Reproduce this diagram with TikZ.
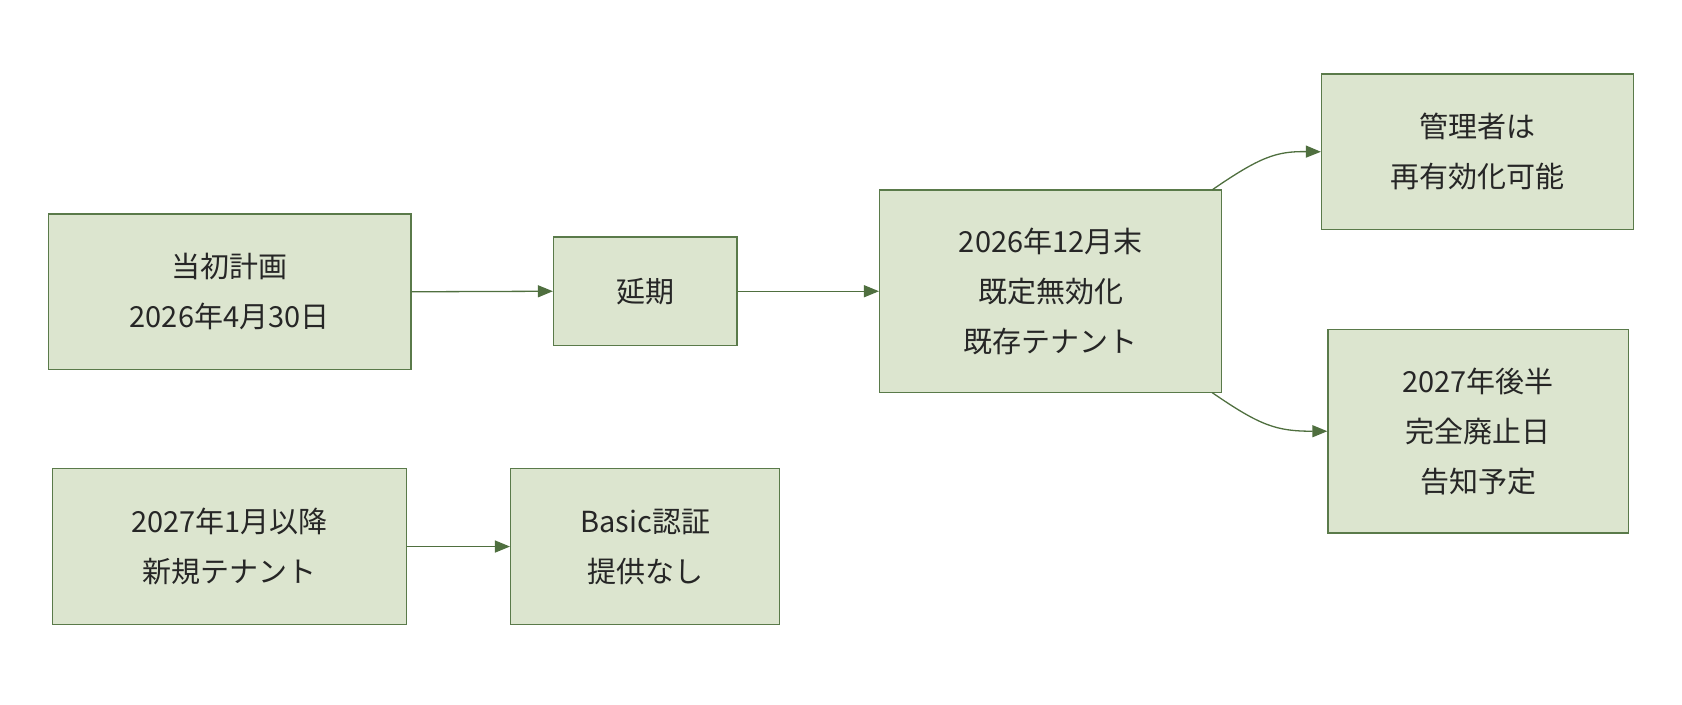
\documentclass[tikz,border=0pt]{standalone}
\usepackage{fontspec}
\setmainfont{Noto Sans CJK JP}
\usetikzlibrary{arrows.meta}
\definecolor{boxfill}{HTML}{DCE5CF}
\definecolor{boxdraw}{HTML}{5A7A4A}
\definecolor{arr}{HTML}{4F6F3F}
\begin{document}
\begin{tikzpicture}[x=1.0727pt,y=-1.0727pt,
  box/.style={draw=boxdraw,fill=boxfill,line width=1.3pt,align=center,inner sep=0pt,
    font=\fontsize{29}{50}\selectfont,text=black!85},
  arw/.style={draw=arr,line width=1.3pt,-{Triangle[length=15pt,width=12pt]}}]
\useasboundingbox (0,0) rectangle (1568,656.3);
\node[box,minimum width=362.6pt,minimum height=155.5pt] (a) at (214,272) {当初計画\\2026年4月30日};
\node[box,minimum width=183.4pt,minimum height=108.3pt] (b) at (601.5,271.5) {延期};
\node[box,minimum width=342.2pt,minimum height=202.7pt] (c) at (979.5,271.5) {2026年12月末\\既定無効化\\既存テナント};
\node[box,minimum width=312.2pt,minimum height=155.5pt] (d) at (1377.5,141.5) {管理者は\\再有効化可能};
\node[box,minimum width=300.4pt,minimum height=203.8pt] (e) at (1378,402) {2027年後半\\完全廃止日\\告知予定};
\node[box,minimum width=354pt,minimum height=155.5pt] (f) at (214,509.5) {2027年1月以降\\新規テナント};
\node[box,minimum width=269.2pt,minimum height=155.5pt] (g) at (601.5,509.5) {Basic認証\\提供なし};
\coordinate (c1) at (1130,177);
\coordinate (c2) at (1130,366);
\draw[arw] (a.east) -- (b.west);
\draw[arw] (b.east) -- (c.west);
\draw[arw] (f.east) -- (g.west);
\draw[arw] (c1) .. controls (1175,146) and (1190,141) .. (d.west);
\draw[arw] (c2) .. controls (1175,397) and (1190,402) .. (e.west);
\end{tikzpicture}
\end{document}
